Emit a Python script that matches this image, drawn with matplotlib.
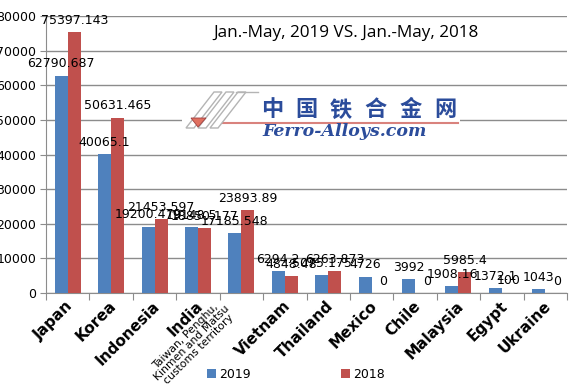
import matplotlib
matplotlib.use("Agg")
import matplotlib.pyplot as plt
import numpy as np
from matplotlib.patches import Rectangle, Polygon

categories = ["Japan", "Korea", "Indonesia", "India",
              "Taiwan, Penghu,\nKinmen and Matsu\ncustoms territory",
              "Vietnam", "Thailand", "Mexico", "Chile", "Malaysia", "Egypt", "Ukraine"]
v2019 = [62790.687, 40065.1, 19200.479, 19148.5, 17185.548, 6294.2, 5075.175,
         4726, 3992, 1908.16, 1372.1, 1043]
v2018 = [75397.143, 50631.465, 21453.597, 18850.177, 23893.89, 4848.48, 6263.873,
         0, 0, 5985.4, 100, 0]
labels2019 = ["62790.687", "40065.1", "19200.479", "19148.5", "17185.548", "6294.2",
              "5075.175", "4726", "3992", "1908.16", "1372.1", "1043"]
labels2018 = ["75397.143", "50631.465", "21453.597", "18850.177", "23893.89", "4848.48",
              "6263.873", "0", "0", "5985.4", "100", "0"]
series_names = ["2019", "2018"]
yticks = [0, 10000, 20000, 30000, 40000, 50000, 60000, 70000, 80000]
title = "Jan.-May, 2019 VS. Jan.-May, 2018"
logo_cn = "中国铁合金网"
logo_en = "Ferro-Alloys.com"

C19 = "#4F81BD"
C18 = "#C0504D"

W, H = 573, 388
fig = plt.figure(figsize=(W / 100, H / 100), dpi=100)
ax = fig.add_axes([46 / W, 1 - 293 / H, (567 - 46) / W, (293 - 16) / H])

x = np.arange(len(categories))
bw = 0.3
ax.bar(x - bw / 2, v2019, bw, color=C19, zorder=3, label=series_names[0])
ax.bar(x + bw / 2, v2018, bw, color=C18, zorder=3, label=series_names[1])

ax.set_xlim(-0.5, len(categories) - 0.5)
ax.set_ylim(0, 80000)
ax.set_yticks(yticks)
ax.set_yticklabels([str(t) for t in yticks], fontsize=9)
ax.yaxis.grid(True, color="#8c8c8c", linewidth=1, zorder=0)
ax.set_axisbelow(True)
for s in ["top", "right"]:
    ax.spines[s].set_visible(False)
ax.spines["left"].set_color("#8c8c8c")
ax.spines["bottom"].set_color("#8c8c8c")
ax.tick_params(axis="y", length=4, color="#8c8c8c", pad=3)

# category ticks between groups
ax.set_xticks(np.arange(-0.5, len(categories) + 0.5, 1))
ax.set_xticklabels([])
ax.tick_params(axis="x", length=5, color="#8c8c8c")

for i, cat in enumerate(categories):
    if "\n" in cat:
        ax.text(i - 0.55, -1000, cat, rotation=45, rotation_mode="anchor",
                ha="right", va="top", fontsize=7.8, linespacing=0.95,
                multialignment="center", clip_on=False)
    else:
        ax.text(i - 0.05, -1500, cat, rotation=45, rotation_mode="anchor",
                ha="right", va="top", fontsize=11, fontweight="bold", clip_on=False)

# data labels
for i in range(len(categories)):
    ax.text(x[i] - bw / 2, v2019[i] + 1500, labels2019[i], ha="center", va="bottom",
            fontsize=9, zorder=5)
    ax.text(x[i] + bw / 2 + (0.12 if v2018[i] == 0 else 0), v2018[i] + 1500, labels2018[i],
            ha="center", va="bottom", fontsize=9, zorder=5)

# watermark logo
fig.patches.append(Rectangle((182 / W, 1 - 150 / H), 278 / W, 58 / H,
                             transform=fig.transFigure, facecolor="white",
                             edgecolor="none", zorder=1))
gray = "#b4b4b4"
for dx in [0, 12, 24]:
    fig.patches.append(Polygon([((186 + dx) / W, 1 - 128 / H), ((214 + dx) / W, 1 - 92 / H),
                                ((222 + dx) / W, 1 - 92 / H), ((194 + dx) / W, 1 - 128 / H)],
                               closed=True, transform=fig.transFigure, facecolor="none",
                               edgecolor=gray, linewidth=1.0, zorder=2))
fig.lines.append(plt.Line2D([236 / W, 258 / W], [1 - 92 / H, 1 - 92 / H],
                            transform=fig.transFigure, color=gray, linewidth=1.0, zorder=2))
fig.patches.append(Polygon([(191 / W, 1 - 118 / H), (206 / W, 1 - 118 / H), (198 / W, 1 - 127 / H)],
                           closed=True, transform=fig.transFigure, facecolor="#e07060",
                           edgecolor="#a04040", linewidth=0.6, zorder=2))
fig.lines.append(plt.Line2D([223 / W, 458 / W], [1 - 123 / H, 1 - 123 / H],
                            transform=fig.transFigure, color="#d9827d", linewidth=1.5, zorder=2))
for k, ch in enumerate(logo_cn):
    fig.text((272 + 34.6 * k) / W, 1 - 110 / H, ch, family=["Noto Sans CJK SC", "DejaVu Sans"],
             fontsize=16, fontweight="bold", color="#2B4C9B", ha="center", va="center", zorder=3)
fig.text(345 / W, 1 - 132 / H, logo_en, family=["DejaVu Serif"],
         fontsize=12.5, fontweight="bold", style="italic", color="#2B4C9B",
         ha="center", va="center", zorder=3)

# title
fig.text(346 / W, 1 - 33 / H, title, fontsize=12.3, family=["Open Sans", "DejaVu Sans"],
         ha="center", va="center")

# legend
leg = fig.legend(loc="center", bbox_to_anchor=(296 / W, 1 - 374 / H), ncol=2,
                 frameon=False, fontsize=9, handlelength=0.7, handleheight=0.7,
                 columnspacing=7.2, handletextpad=0.3)

fig.savefig("out.png", dpi=100)
